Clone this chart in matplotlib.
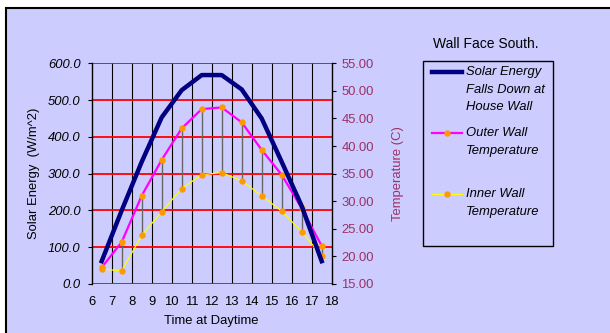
import numpy as np
import matplotlib.pyplot as plt
from matplotlib.patches import Rectangle

plt.rcParams['font.family'] = ['Liberation Sans', 'DejaVu Sans']

# Datos (hora del dia, a la mitad de cada hora)
hours = [6.5, 7.5, 8.5, 9.5, 10.5, 11.5, 12.5, 13.5, 14.5, 15.5, 16.5, 17.5]
solar = [62, 200, 332, 453, 527, 568, 568, 529, 450, 332, 212, 62]          # W/m^2
outer_temp = [18.0, 22.6, 31.0, 37.5, 43.2, 46.7, 47.0, 44.3, 39.3, 34.8, 28.7, 21.9]  # C
inner_temp = [17.7, 17.4, 23.8, 28.1, 32.3, 34.8, 35.2, 33.7, 31.0, 28.2, 24.5, 20.1]  # C

x_ticks = list(range(6, 19))
solar_ticks = list(range(0, 601, 100))
temp_ticks = list(range(15, 56, 5))

legend_title = "Wall Face South."
legend_labels = ["Solar Energy\nFalls Down at\nHouse Wall",
                 "Outer Wall\nTemperature",
                 "Inner Wall\nTemperature"]

W, H = 610, 333
bg = '#CCCCFF'
temp_color = '#993366'
orange = '#FF9900'
fs = 9.4

fig = plt.figure(figsize=(W / 100, H / 100), dpi=100)

# capa de fondo en pixeles (fondo lila, borde y leyenda)
bgax = fig.add_axes([0, 0, 1, 1])
bgax.set_xlim(0, W)
bgax.set_ylim(H, 0)
bgax.axis('off')
bgax.add_patch(Rectangle((6, 7.5), W + 10, H + 10, facecolor=bg,
                         edgecolor='black', linewidth=1.5))

# grafico principal
ax = fig.add_axes([91.7 / W, 1 - 284 / H, 240 / W, 220.7 / H])
ax.patch.set_alpha(0)
ax.set_xlim(6, 18)
ax.set_ylim(0, 600)
ax.set_xticks(x_ticks)
ax.set_yticks(solar_ticks)
ax.set_yticklabels([f"{v:.1f}" for v in solar_ticks], fontstyle='italic')
ax.tick_params(axis='x', length=0, pad=8.5, labelsize=fs)
ax.tick_params(axis='y', length=3, width=0.8, pad=5, labelsize=fs)
for h in x_ticks[1:-1]:
    ax.axvline(h, color='black', linewidth=0.8, zorder=1)
for v in solar_ticks:
    ax.axhline(v, color='#FF0000', linewidth=1.3, zorder=1.5)
for s in ['top', 'bottom']:
    ax.spines[s].set_visible(False)
ax.spines['left'].set_linewidth(1.0)
ax.spines['right'].set_visible(False)

ax.set_xlabel("Time at Daytime", fontsize=fs, labelpad=5)
ax.set_ylabel("Solar Energy  (W/m^2)", fontsize=fs, labelpad=6)

ax2 = ax.twinx()
ax2.set_ylim(15, 55)
ax2.set_yticks(temp_ticks)
ax2.set_yticklabels([f"{v:.2f}" for v in temp_ticks])
ax2.tick_params(axis='y', length=3, width=0.8, pad=4, labelsize=fs,
                labelcolor=temp_color)
for s in ['top', 'bottom', 'left']:
    ax2.spines[s].set_visible(False)
ax2.spines['right'].set_linewidth(1.0)
ax2.set_ylabel("Temperature (C)", fontsize=fs, color=temp_color, labelpad=13)

# lineas alto-bajo entre las dos temperaturas
ax2.vlines(hours, inner_temp, outer_temp, color='#666666', linewidth=1.0, zorder=2)
ax2.plot(hours, inner_temp, color='#FFFF00', linewidth=0.9, marker='o',
         markersize=3.6, markerfacecolor=orange, markeredgecolor=orange, zorder=3)
ax2.plot(hours, outer_temp, color='#FF00FF', linewidth=1.6, marker='o',
         markersize=3.6, markerfacecolor=orange, markeredgecolor=orange, zorder=4)
# energia solar en el eje izquierdo, dibujada encima
ax3 = ax.twinx()
ax3.set_ylim(0, 600)
ax3.axis('off')
ax3.plot(hours, solar, color='#000080', linewidth=3.2, zorder=5)

# leyenda
bgax.text(486, 44, legend_title, ha='center', va='center', fontsize=10)
bgax.add_patch(Rectangle((422.7, 60.7), 130.6, 185.3, facecolor='none',
                         edgecolor='black', linewidth=1.0))
styles = [dict(color='#000080', linewidth=3.2),
          dict(color='#FF00FF', linewidth=1.6, marker='o', markersize=3.6,
               markerfacecolor=orange, markeredgecolor=orange, markevery=[1]),
          dict(color='#FFFF00', linewidth=0.9, marker='o', markersize=3.6,
               markerfacecolor=orange, markeredgecolor=orange, markevery=[1])]
for i, (lab, st) in enumerate(zip(legend_labels, styles)):
    y0 = 72.3 + i * 61
    bgax.plot([432, 447, 462], [y0, y0, y0], **st)
    for j, line in enumerate(lab.split("\n")):
        bgax.text(466, y0 + j * 17.5, line, ha='left', va='center',
                  fontsize=fs, fontstyle='italic')

fig.savefig("out.png", dpi=100)
